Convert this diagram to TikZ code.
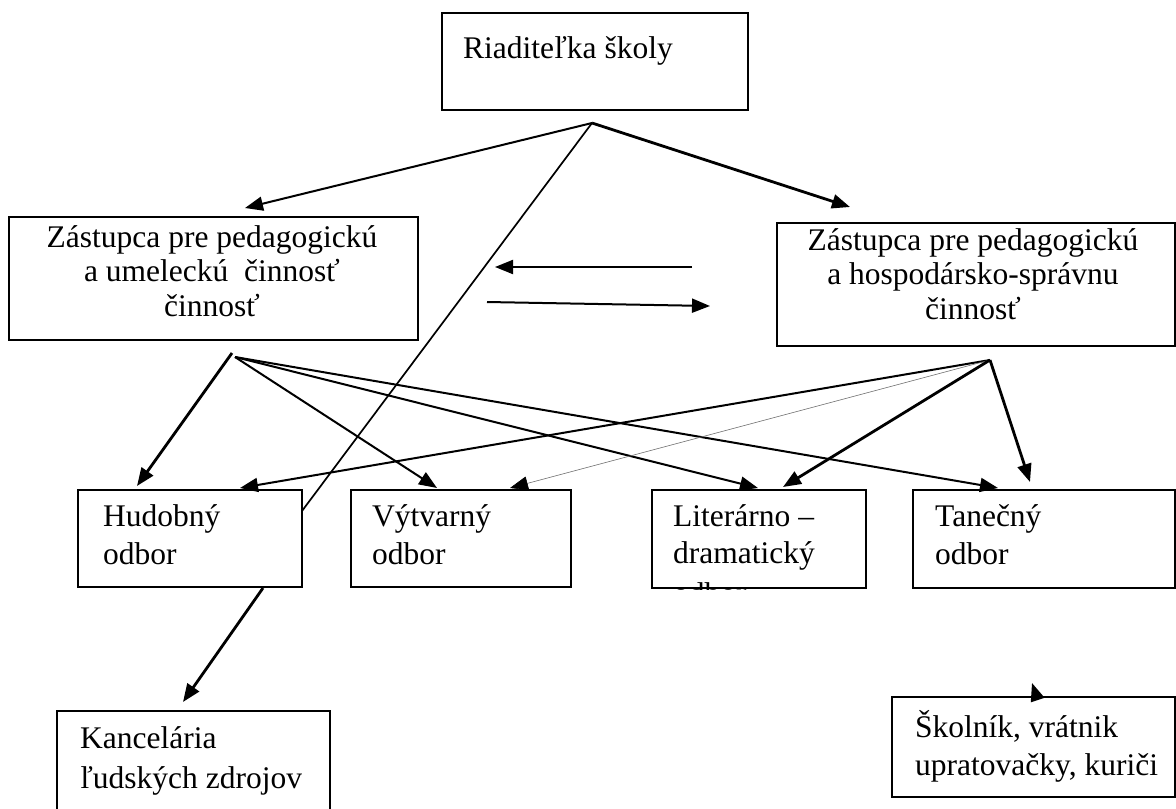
\documentclass[tikz,border=0pt]{standalone}
\usepackage{fontspec}
\setmainfont{Liberation Serif}
\usetikzlibrary{arrows.meta}
\newcommand\ctrlines[2]{\vtop{\baselineskip=#1\halign{\hfil##\hfil\cr#2\crcr}}}
\newcommand\leftlines[2]{\vtop{\baselineskip=#1\halign{##\hfil\cr#2\crcr}}}
\begin{document}
\begin{tikzpicture}[x=1pt,y=-1pt,
  box/.style={draw, line width=2pt, fill=white, inner sep=0pt, outer sep=0pt, anchor=north west},
  txt/.style={inner sep=0pt, font=\fontsize{31.5}{35}\selectfont},
  arr/.style={-{Triangle[length=18pt,width=14pt,color=black]}, line width=2pt},
  heavy/.style={arr, line width=2.8pt},
  plain/.style={line width=1.7pt},
  faint/.style={arr, line width=0.6pt, draw=black!55}]
\clip (0,0) rectangle (1176,809);
\fill[white] (0,0) rectangle (1176,809);
% boxes
\node[box, minimum width=306pt, minimum height=97pt] (riad) at (442,13) {};
\node[box, minimum width=409pt, minimum height=123pt] (zl) at (9,217) {};
\node[box, minimum width=398pt, minimum height=123pt] (zr) at (777,223) {};
\node[box, minimum width=224pt, minimum height=97pt] (hud) at (78,490) {};
\node[box, minimum width=220pt, minimum height=97pt] (vyt) at (351,490) {};
\node[box, minimum width=214pt, minimum height=98pt] (lit) at (652,490) {};
\node[box, minimum width=262pt, minimum height=98pt] (tan) at (913,490) {};
\node[box, minimum width=273pt, minimum height=120pt] (kanc) at (57,711) {};
\node[box, minimum width=283pt, minimum height=100pt] (skol) at (892,697) {};
% texts
\node[txt, anchor=base west] (t-riad) at (463,58) {Riaditeľka školy};
\node[txt, anchor=base] (t-zl) at (212,247) {\ctrlines{34.5pt}{Zástupca pre pedagogickú\cr a umeleckú\ \ činnosť\cr činnosť}};
\node[txt, anchor=base] (t-zr) at (973,250) {\ctrlines{34.5pt}{Zástupca pre pedagogickú\cr a hospodársko-správnu\cr činnosť}};
\node[txt, anchor=base west] (t-hud) at (103,526) {\leftlines{38pt}{Hudobný\cr odbor}};
\node[txt, anchor=base west] (t-vyt) at (372,526) {\leftlines{38pt}{Výtvarný\cr odbor}};
\begin{scope}
\clip ([shift={(1pt,-1pt)}]lit.south west) rectangle ([shift={(-1pt,1pt)}]lit.north east);
\node[txt, anchor=base west] (t-lit) at (673,526) {\leftlines{37.5pt}{Literárno –\cr dramatický\cr\noalign{\vskip3pt} odbor}};
\end{scope}
\node[txt, anchor=base west] (t-tan) at (935,526) {\leftlines{38pt}{Tanečný\cr odbor}};
\node[txt, anchor=base west] (t-kanc) at (80,748) {\leftlines{40pt}{Kancelária\cr ľudských zdrojov}};
\node[txt, anchor=base west] (t-skol) at (915,737) {\leftlines{38pt}{Školník, vrátnik\cr upratovačky, kuriči}};
% connector points
\coordinate (T) at (592,123);
\coordinate (zl-in) at (245,208);
\coordinate (zr-in) at (850,207);
\coordinate (L) at (235,357);
\coordinate (L0) at (232,353);
\coordinate (R) at (990,360);
\coordinate (ra) at (692,267);
\coordinate (la) at (495,267);
\coordinate (lb) at (487,302);
\coordinate (rb) at (710,306);
\coordinate (hud-e) at (302,511);
\coordinate (hud-s) at (263,588);
\coordinate (kanc-n) at (183,702);
\coordinate (hud-a) at (137,486);
\coordinate (hud-b) at (240,488);
\coordinate (vyt-a) at (437,488);
\coordinate (vyt-b) at (510,488);
\coordinate (lit-a) at (758,488);
\coordinate (lit-b) at (783,487);
\coordinate (tan-a) at (998,488);
\coordinate (tan-b) at (1030,482);
\coordinate (skol-n) at (1037,698);
\coordinate (skol-t) at (1032,683);
% connectors
\draw[arr] (T) -- (zl-in);
\draw[heavy] (T) -- (zr-in);
\draw[plain] (T) -- (hud-e);
\draw[heavy] (hud-s) -- (kanc-n);
\draw[arr] (ra) -- (la);
\draw[arr] (lb) -- (rb);
\draw[heavy] (L0) -- (hud-a);
\draw[arr] (L) -- (vyt-a);
\draw[arr] (L) -- (lit-a);
\draw[arr] (L) -- (tan-a);
\draw[arr] (R) -- (hud-b);
\draw[faint] (R) -- (vyt-b);
\draw[heavy] (R) -- (lit-b);
\draw[heavy] (R) -- (tan-b);
\draw[arr] (skol-n) -- (skol-t);
\end{tikzpicture}
\end{document}
